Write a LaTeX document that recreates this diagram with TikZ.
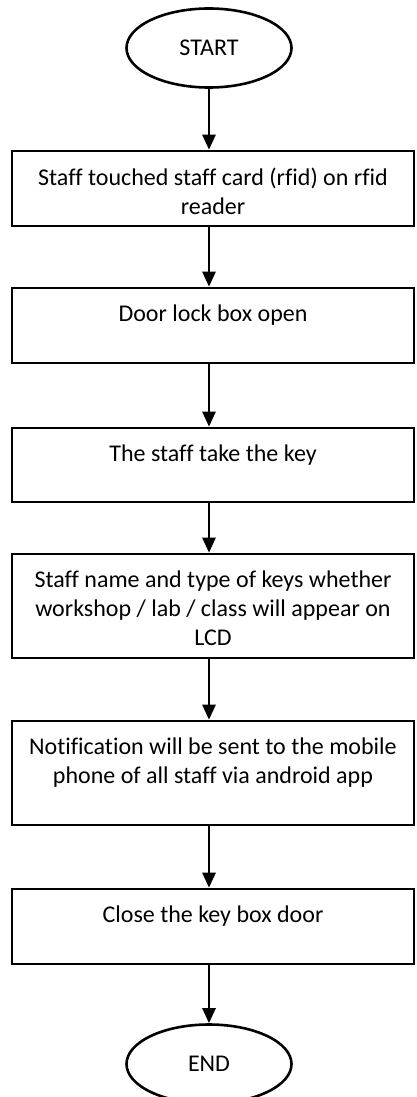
\documentclass[tikz,border=0pt]{standalone}
\usepackage{fontspec}
\setmainfont{Carlito}[Ligatures=NoCommon]
\usetikzlibrary{arrows.meta,shapes.geometric}
\begin{document}
\begin{tikzpicture}[x=1pt,y=-1pt,
  lw/.style={line width=2.6pt},
  stepbox/.style={draw,lw,inner sep=0pt,minimum width=402pt},
  term/.style={draw,lw,ellipse,inner sep=0pt,minimum width=165pt,minimum height=79pt,font=\fontsize{24}{29}\selectfont},
  txt/.style={inner sep=0pt,align=center,anchor=north,font=\fontsize{24}{29}\selectfont},
  arr/.style={lw,-{Triangle[width=13pt,length=15pt]}}]
\clip (0,0) rectangle (417,1097);
\useasboundingbox (0,0) rectangle (417,1097);
\node[term] (s) at (209,48) {START};
\node[stepbox,minimum height=75pt] (b1) at (213,188.5) {};
\node[stepbox,minimum height=75pt] (b2) at (213,325.5) {};
\node[stepbox,minimum height=74pt] (b3) at (213,465) {};
\node[stepbox,minimum height=104pt] (b4) at (213,606) {};
\node[stepbox,minimum height=104pt] (b5) at (213,773) {};
\node[stepbox,minimum height=75pt] (b6) at (213,926.5) {};
\node[term] (e) at (209,1064) {END};
\node[txt] (t1) at (213,167.5) {Staff touched staff card (rfid) on rfid\\reader};
\node[txt] (t2) at (213,304.5) {Door lock box open};
\node[txt] (t3) at (213,444.5) {The staff take the key};
\node[txt] (t4) at (213,570.5) {Staff name and type of keys whether\\workshop / lab / class will appear on\\LCD};
\node[txt] (t5) at (213,737.5) {Notification will be sent to the mobile\\phone of all staff via android app};
\node[txt] (t6) at (213,905.5) {Close the key box door};
\draw[arr] (s.south) -- (s.south |- b1.north);
\draw[arr] (b1.south -| s.south) -- (s.south |- b2.north);
\draw[arr] (b2.south -| s.south) -- (s.south |- b3.north);
\draw[arr] (b3.south -| s.south) -- (s.south |- b4.north);
\draw[arr] (b4.south -| s.south) -- (s.south |- b5.north);
\draw[arr] (b5.south -| s.south) -- (s.south |- b6.north);
\draw[arr] (b6.south -| s.south) -- (e.north);
\end{tikzpicture}
\end{document}
